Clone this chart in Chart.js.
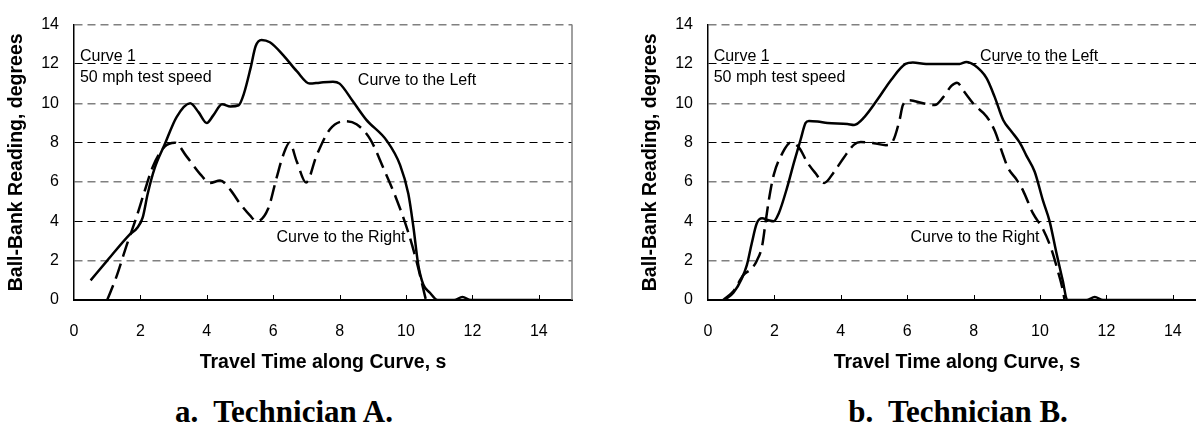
<!DOCTYPE html>
<html>
<head>
<meta charset="utf-8">
<script src="https://cdn.jsdelivr.net/npm/chart.js@4/dist/chart.umd.min.js"></script>
<style>
  html, body { margin: 0; padding: 0; background: #fff; overflow: hidden; }
  body { width: 1196px; height: 429px; position: relative; }
  .box { position: absolute; top: 0; width: 598px; height: 380px; }
  .caption { position: absolute; top: 394px; font-family: "Liberation Serif", "Times New Roman", serif;
             font-weight: bold; font-size: 31px; line-height: 36px; color: #000; white-space: pre; transform: translateX(-50%); }
</style>
</head>
<body>
<div class="box" style="left:0;"><canvas id="chart-a"></canvas></div>
<div class="box" style="left:634px;"><canvas id="chart-b"></canvas></div>
<div class="caption" style="left:284px;">a.  Technician A.</div>
<div class="caption" style="left:958px;">b.  Technician B.</div>
<script>
// Technician A, curve to the left (solid)
const timeALeft = [0.5, 1.0, 1.66, 1.92, 2.07, 2.22, 2.43, 2.73, 3.09, 3.5, 3.75, 4.0, 4.2, 4.46, 4.71, 4.96, 5.12, 5.32, 5.47, 5.65, 5.9, 6.3, 6.71, 7.1, 7.4, 7.8, 8.0, 8.4, 8.8, 9.42, 9.82, 10.07, 10.22, 10.37, 10.52, 10.72, 10.95, 11.45, 11.7, 11.95, 14];
const degALeft  = [1.0, 2.0, 3.3, 3.7, 4.2, 5.4, 6.7, 7.9, 9.3, 10.0, 9.55, 9.0, 9.4, 9.95, 9.84, 9.9, 10.5, 11.8, 12.9, 13.22, 13.1, 12.45, 11.63, 11.0, 11.05, 11.1, 11.0, 10.1, 9.17, 8.1, 6.87, 5.4, 3.75, 1.78, 0.79, 0.37, 0, 0, 0.15, 0, 0];
// Technician A, curve to the right (dashed)
const timeARight = [1.0, 1.26, 1.61, 1.87, 2.12, 2.38, 2.73, 3.04, 3.39, 3.8, 4.1, 4.4, 4.71, 5.0, 5.3, 5.5, 5.85, 6.1, 6.3, 6.49, 6.71, 6.99, 7.31, 7.71, 8.16, 8.51, 8.92, 9.32, 9.72, 10.07, 10.32, 10.6];
const degARight  = [0, 1.1, 2.9, 4.15, 5.5, 6.8, 7.8, 8.0, 7.3, 6.4, 5.95, 6.07, 5.6, 4.9, 4.3, 4.0, 4.65, 6.2, 7.36, 8.0, 7.04, 5.97, 7.36, 8.68, 9.09, 8.93, 8.18, 6.7, 5.1, 3.43, 1.95, 0];
// Technician B, curve to the left (solid)
const timeBLeft = [0.5, 0.77, 1.02, 1.17, 1.32, 1.47, 1.63, 1.8, 1.98, 2.13, 2.38, 2.59, 2.79, 2.94, 3.04, 3.3, 3.6, 4.2, 4.4, 4.71, 5.11, 5.52, 5.95, 6.17, 6.57, 7.58, 7.78, 8.03, 8.39, 8.64, 8.89, 9.14, 9.39, 9.59, 9.84, 10.09, 10.29, 10.49, 10.69, 10.82, 11.4, 11.65, 11.9, 14];
const degBLeft  = [0, 0.38, 1.1, 1.77, 2.9, 3.9, 4.15, 4.07, 4.0, 4.4, 5.7, 7.0, 8.16, 9.0, 9.1, 9.07, 9.0, 8.95, 8.9, 9.3, 10.2, 11.2, 12.0, 12.07, 12.0, 12.0, 12.1, 11.93, 11.28, 10.3, 9.15, 8.57, 8.0, 7.34, 6.52, 5.05, 4.0, 2.43, 0.95, 0, 0, 0.15, 0, 0];
// Technician B, curve to the right (dashed)
const timeBRight = [0.46, 0.77, 1.07, 1.32, 1.47, 1.63, 1.73, 1.83, 1.98, 2.23, 2.48, 2.74, 2.99, 3.24, 3.5, 3.8, 4.1, 4.4, 4.6, 5.0, 5.36, 5.57, 5.77, 5.87, 6.07, 6.48, 6.83, 7.08, 7.33, 7.5, 7.73, 8.03, 8.39, 8.64, 8.89, 9.04, 9.29, 9.49, 9.79, 10.09, 10.34, 10.54, 10.69, 10.74];
const degBRight  = [0, 0.46, 1.28, 1.6, 2.0, 2.75, 3.9, 5.05, 6.36, 7.43, 8.0, 7.75, 7.0, 6.44, 5.95, 6.52, 7.26, 7.9, 8.03, 7.97, 7.87, 8.08, 9.15, 9.91, 10.15, 10.0, 9.91, 10.3, 10.88, 11.05, 10.56, 9.91, 9.33, 8.59, 7.36, 6.7, 6.13, 5.56, 4.4, 3.6, 2.6, 1.46, 0.48, 0];

const xTicks = [0, 2, 4, 6, 8, 10, 12, 14];
const yTicks = [0, 2, 4, 6, 8, 10, 12, 14];

// text notes, placed in data units (time, degrees) at the text baseline
const notesA = [
  { text: "Curve 1", x: 0.18, y: 12.14 },
  { text: "50 mph test speed", x: 0.18, y: 11.1 },
  { text: "Curve to the Left", x: 8.55, y: 10.91 },
  { text: "Curve to the Right", x: 6.1, y: 2.93 },
];
const notesB = [
  { text: "Curve 1", x: 0.17, y: 12.14 },
  { text: "50 mph test speed", x: 0.17, y: 11.1 },
  { text: "Curve to the Left", x: 8.19, y: 12.14 },
  { text: "Curve to the Right", x: 6.1, y: 2.93 },
];

Chart.defaults.font.family = "'Liberation Sans', Arial, sans-serif";
Chart.defaults.color = "#000";

function pts(xs, ys) {
  return xs.map((x, i) => ({ x: x, y: ys[i] }));
}

const notesPlugin = {
  id: "notes",
  afterDatasetsDraw(chart, args, opts) {
    const ctx = chart.ctx;
    const xs = chart.scales.x, ys = chart.scales.y;
    const area = chart.chartArea;
    ctx.save();
    // small inside tick marks on the time axis
    ctx.strokeStyle = "#000";
    ctx.lineWidth = 1;
    xTicks.forEach((t) => {
      if (t === 0) return;
      const px = Math.round(xs.getPixelForValue(t)) + 0.5;
      ctx.beginPath();
      ctx.moveTo(px, area.bottom);
      ctx.lineTo(px, area.bottom - 5);
      ctx.stroke();
    });
    if (opts.rightBorder) {
      ctx.strokeStyle = "#808080";
      ctx.lineWidth = 1.5;
      ctx.beginPath();
      ctx.moveTo(area.right, area.top);
      ctx.lineTo(area.right, area.bottom);
      ctx.stroke();
    }
    ctx.fillStyle = "#000";
    ctx.font = "16px 'Liberation Sans', Arial, sans-serif";
    ctx.textBaseline = "alphabetic";
    ctx.textAlign = "left";
    (opts.notes || []).forEach((n) => {
      ctx.fillText(n.text, xs.getPixelForValue(n.x), ys.getPixelForValue(n.y));
    });
    ctx.restore();
  },
};

function makeChart(id, solid, dashed, notes, rightBorder) {
  const ctx = document.getElementById(id).getContext("2d");
  return new Chart(ctx, {
    type: "line",
    data: {
      datasets: [
        {
          label: "Curve to the Left",
          data: solid,
          borderColor: "#000",
          borderWidth: 2.5,
          pointRadius: 0,
          cubicInterpolationMode: "monotone",
          fill: false,
        },
        {
          label: "Curve to the Right",
          data: dashed,
          borderColor: "#000",
          borderWidth: 2.5,
          borderDash: [16, 7],
          pointRadius: 0,
          cubicInterpolationMode: "monotone",
          fill: false,
        },
      ],
    },
    plugins: [notesPlugin],
    options: {
      responsive: true,
      maintainAspectRatio: false,
      animation: false,
      layout: { padding: { top: 15, right: 26, left: 0, bottom: 0 } },
      plugins: {
        legend: { display: false },
        tooltip: { enabled: false },
        notes: { notes: notes, rightBorder: rightBorder },
      },
      scales: {
        x: {
          type: "linear",
          min: 0,
          max: 15,
          afterFit: (s) => { s.height = 80; },
          afterBuildTicks: (s) => { s.ticks = xTicks.map((v) => ({ value: v })); },
          grid: { display: false },
          border: { display: true, color: "#000", width: 2 },
          ticks: { padding: 14, font: { size: 16 }, color: "#000" },
          title: {
            display: true,
            text: "Travel Time along Curve, s",
            font: { size: 19.5, weight: "bold" },
            padding: { top: 0, bottom: 6 },
            color: "#000",
          },
        },
        y: {
          min: 0,
          max: 14,
          afterFit: (s) => { s.width = 74; },
          afterBuildTicks: (s) => { s.ticks = yTicks.map((v) => ({ value: v })); },
          grid: {
            drawTicks: false,
            color: (c) => (c.tick.value === 0 ? "rgba(0,0,0,0)" : (c.tick.value % 4 === 0 ? "#000" : "#808080")),
            lineWidth: (c) => (c.tick.value % 4 === 0 ? 1 : 1.5),
          },
          border: { display: true, color: "#000", width: 1.5, dash: [8, 5] },
          ticks: { padding: 15, font: { size: 16 }, color: "#000" },
          title: {
            display: true,
            text: "Ball-Bank Reading, degrees",
            font: { size: 19.5, weight: "bold" },
            padding: { top: 5, bottom: 0 },
            color: "#000",
          },
        },
      },
    },
  });
}

makeChart("chart-a", pts(timeALeft, degALeft), pts(timeARight, degARight), notesA, true);
makeChart("chart-b", pts(timeBLeft, degBLeft), pts(timeBRight, degBRight), notesB, false);
</script>
</body>
</html>
